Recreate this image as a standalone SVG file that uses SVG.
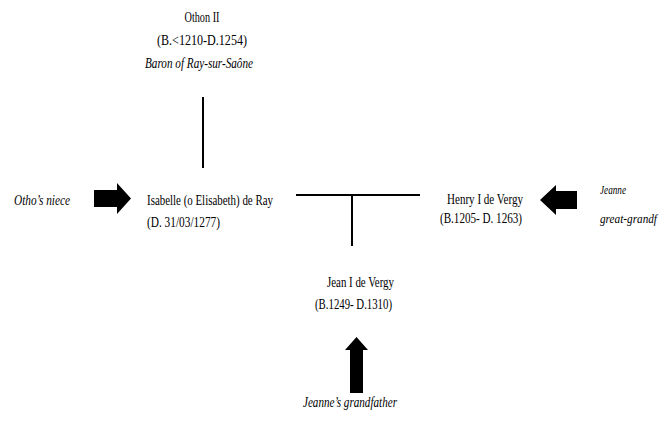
<svg xmlns="http://www.w3.org/2000/svg" width="670" height="428" viewBox="0 0 670 428">
<style>
text{font-family:"Liberation Serif","Times New Roman",serif;font-size:15px;fill:#000}
.i{font-style:italic}
.c{text-anchor:middle}
.s{font-size:13px}
line{stroke:#000;stroke-width:2}
.arrow{fill:#000}
</style>
<rect width="670" height="428" fill="#fff"/>
<g id="othon">
<text x="202" y="22" class="c" textLength="35" lengthAdjust="spacingAndGlyphs">Othon II</text>
<text x="202" y="45" class="c" textLength="90" lengthAdjust="spacingAndGlyphs">(B.&lt;1210-D.1254)</text>
<text x="199" y="68" class="c i" textLength="108" lengthAdjust="spacingAndGlyphs">Baron of Ray-sur-Saône</text>
</g>
<g id="isabelle">
<text x="147" y="205" textLength="126" lengthAdjust="spacingAndGlyphs">Isabelle (o Elisabeth) de Ray</text>
<text x="147" y="227" textLength="73" lengthAdjust="spacingAndGlyphs">(D. 31/03/1277)</text>
</g>
<g id="henry">
<text x="447" y="204" textLength="76" lengthAdjust="spacingAndGlyphs">Henry I de Vergy</text>
<text x="440" y="223" textLength="82" lengthAdjust="spacingAndGlyphs">(B.1205- D. 1263)</text>
</g>
<g id="jean">
<text x="327" y="287" textLength="67" lengthAdjust="spacingAndGlyphs">Jean I de Vergy</text>
<text x="315" y="309" textLength="77" lengthAdjust="spacingAndGlyphs">(B.1249- D.1310)</text>
</g>
<g id="otho-niece">
<text x="14" y="205" class="i" textLength="56" lengthAdjust="spacingAndGlyphs">Otho’s niece</text>
</g>
<g id="jeanne-greatgrandf">
<text x="600" y="194" class="i s" textLength="26" lengthAdjust="spacingAndGlyphs">Jeanne</text>
<text x="600" y="223" class="i s" textLength="57" lengthAdjust="spacingAndGlyphs">great-grandf</text>
</g>
<g id="jeanne-grandfather">
<text x="303" y="407" class="i" textLength="94" lengthAdjust="spacingAndGlyphs">Jeanne’s grandfather</text>
</g>
<g id="connectors">
<line x1="203" y1="97" x2="203" y2="168"/>
<line x1="296" y1="195" x2="420" y2="195"/>
<line x1="352" y1="195" x2="352" y2="246"/>
<polygon class="arrow" points="94,190 117,190 117,183 131,198.5 117,214 117,207 94,207"/>
<polygon class="arrow" points="577,191 556,191 556,185 540,200 556,215 556,209 577,209"/>
<polygon class="arrow" points="350,393 350,350 345,350 356.5,337 368,350 363,350 363,393"/>
</g>
</svg>
